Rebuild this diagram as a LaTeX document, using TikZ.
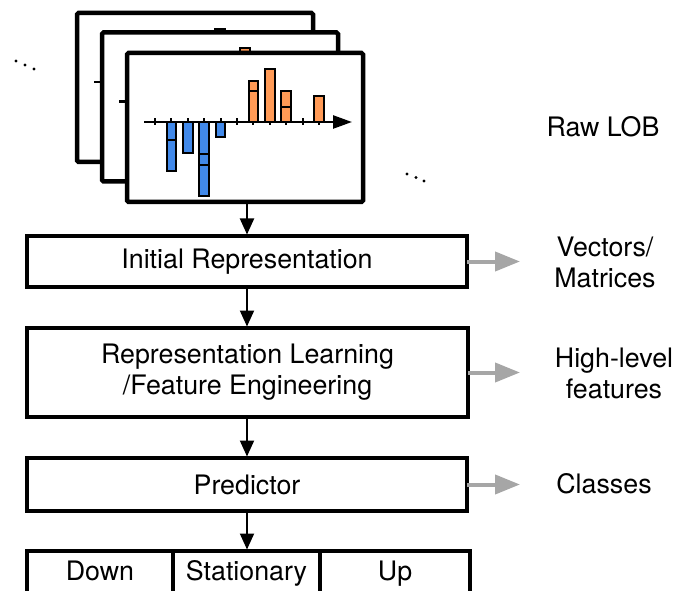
\documentclass[tikz,border=0pt]{standalone}
\usepackage{fontspec}
\setmainfont{TeX Gyre Heros}
\usetikzlibrary{arrows.meta}
\definecolor{barblue}{HTML}{4189EA}
\definecolor{barorange}{HTML}{FF9A56}
\definecolor{outgray}{HTML}{A6A6A6}

\tikzset{
  frame/.style={draw, fill=white, line width=4.5pt, minimum width=236pt,
    minimum height=149pt, inner sep=0pt, outer sep=0pt, rounded corners=1.5pt},
  box/.style={draw, line width=3.7pt, inner sep=0pt, outer sep=0pt},
  cell/.style={box, minimum height=46pt, text height=19pt, text depth=7pt},
  bar/.style={draw=black, line width=2pt},
  axisline/.style={line width=2.5pt, -{Triangle[length=19pt,width=13pt]}},
  tickmark/.style={line width=2pt},
  blk/.style={line width=2pt, -{Triangle[length=16pt,width=14pt]}, shorten >=1.5pt},
  gry/.style={draw=outgray, line width=4pt, -{Triangle[length=25pt,width=19pt]}},
  dotmark/.style={fill=black}
}

% one bar chart of the limit order book inside its frame, shifted by (#1,#2)
\newcommand\lobchart[3]{%
  \begin{scope}[shift={(#1,#2)}]
    \node[frame] (#3) at (245,127.5) {};
    \foreach \i in {0,...,10}
      \draw[tickmark] (155+16.4*\i,118.5) -- (155+16.4*\i,125.5);
    \draw[axisline] (144,122) -- (352,122);
    \foreach \cx/\y/\c in {171.4/171/barblue, 187.8/153/barblue,
        204.2/196/barblue, 220.6/137/barblue,
        253.4/81/barorange, 269.8/69/barorange,
        286.2/91/barorange, 319/96/barorange}
      \draw[bar, fill=\c] (\cx-4.75,122) rectangle (\cx+4.75,\y);
    \foreach \cx/\y in {171.4/140, 204.2/154, 204.2/165, 253.4/91, 286.2/107}
      \draw[bar] (\cx-4.75,\y) -- (\cx+4.75,\y);
  \end{scope}}

\begin{document}
\begin{tikzpicture}[x=1pt, y=-1pt, font=\fontsize{26.8}{31}\selectfont]
  \useasboundingbox (0,0) rectangle (678,591);
  \clip (0,0) rectangle (678,591);

  % stack of order book snapshots
  \lobchart{-50}{-40}{lobback}
  \lobchart{-25}{-20.5}{lobmid}
  \lobchart{0}{0}{lob}

  % ellipses beside the stack
  \foreach \p in {(16,61),(25,65),(34,69),(407,174),(416,177.5),(424,181)}
    \fill[dotmark] \p circle (1.6pt);

  \node (rawlob) at (603,127) {Raw LOB};

  % processing pipeline
  \node[box, minimum width=440pt, minimum height=51pt] (init) at (247,261.5)
    {Initial Representation};
  \node[box, minimum width=441pt, minimum height=89pt, align=center] (rep)
    at (247.5,372.5) {Representation Learning\\/Feature Engineering};
  \node[box, minimum width=440pt, minimum height=53pt] (pred) at (247,484.5)
    {Predictor};

  % output classes
  \node[cell, minimum width=146pt] (down) at (100,574) {Down};
  \node[cell, minimum width=147pt] (stat) at (246.5,574) {Stationary};
  \node[cell, minimum width=150pt] (up) at (395,574) {Up};

  % flow between stages
  \draw[blk] (init.north |- lob.south) -- (init.north);
  \draw[blk] (init.south) -- (init.south |- rep.north);
  \draw[blk] (init.south |- rep.south) -- (init.south |- pred.north);
  \draw[blk] (init.south |- pred.south) -- (init.south |- stat.north);

  % outputs of each stage
  \coordinate (vmend) at (520,261.5);
  \coordinate (hlend) at (520,372.5);
  \coordinate (clend) at (520,484.5);
  \draw[gry] (init.east) -- (vmend);
  \draw[gry] (rep.east) -- (hlend);
  \draw[gry] (pred.east) -- (clend);

  \node[align=center] (vm) at (605,262) {Vectors/\\Matrices};
  \node[align=center] (hl) at (614,373) {High-level\\features};
  \node (cl) at (604,484) {Classes};
\end{tikzpicture}
\end{document}
